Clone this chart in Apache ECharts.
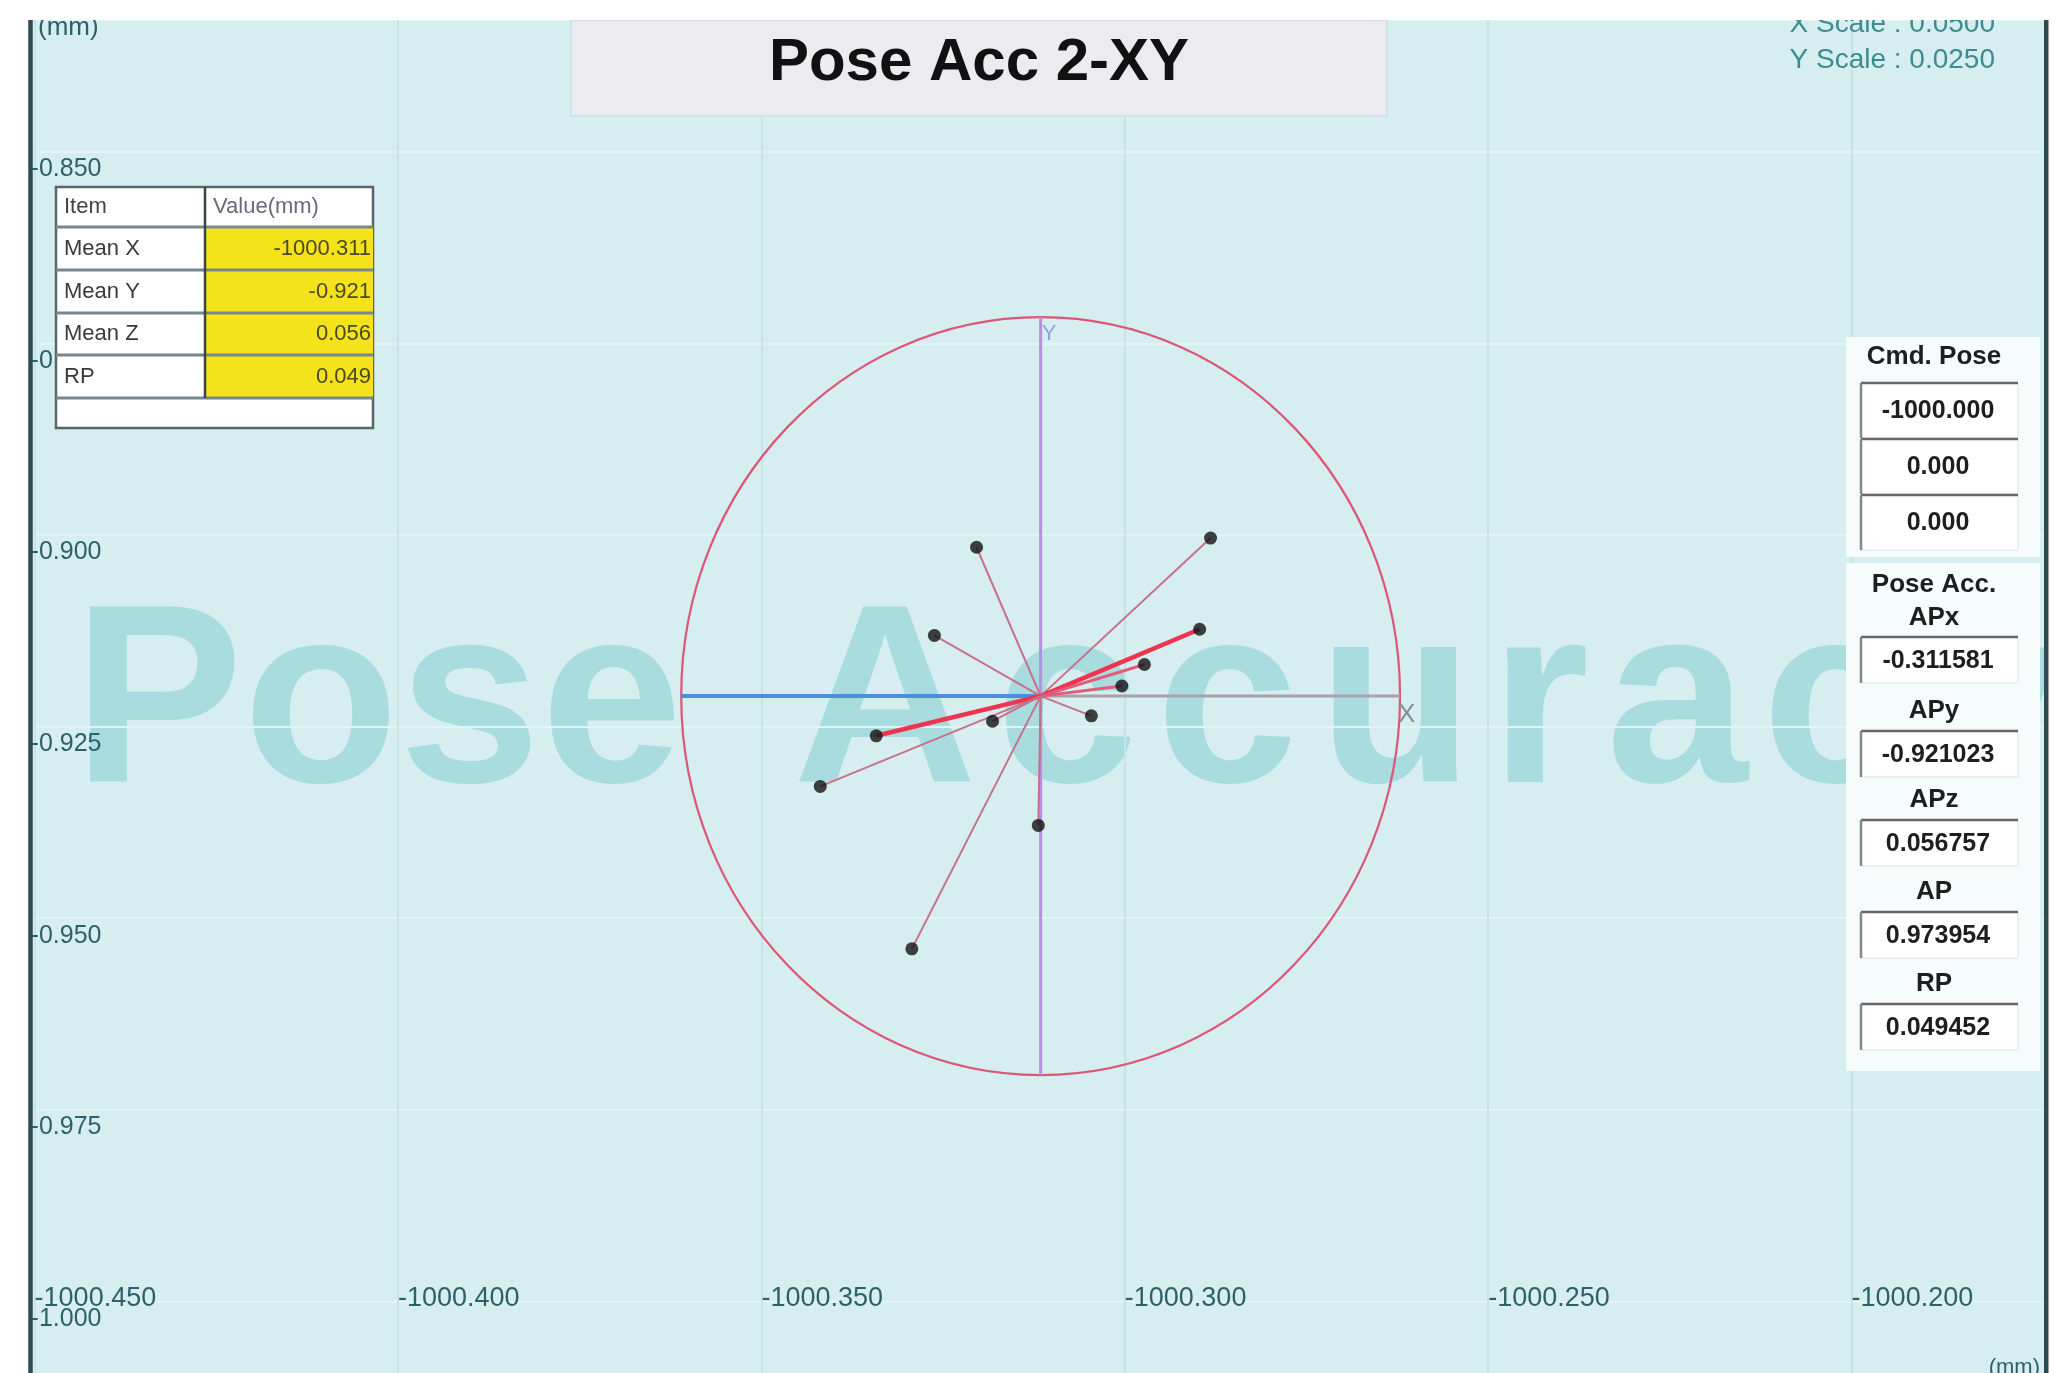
<!DOCTYPE html>
<html><head><meta charset="utf-8">
<script src="https://cdn.jsdelivr.net/npm/echarts@6/dist/echarts.min.js"></script>
<style>html,body{margin:0;padding:0;background:#fff}#c{width:2072px;height:1373px}</style>
</head><body><div id="c"></div>
<script>
// ---- data ----
const pointX = [-1000.3204, -1000.2882, -1000.3262, -1000.2897, -1000.2973, -1000.3004,
                -1000.3046, -1000.3182, -1000.3342, -1000.3419, -1000.3119, -1000.3293];
const pointY = [-0.9016, -0.9004, -0.9131, -0.9123, -0.9169, -0.9197,
                -0.9236, -0.9243, -0.9262, -0.9328, -0.9379, -0.9540];
const meanX = -1000.311581;
const meanY = -0.921023;
const rpRadius = 0.049452;
const xMin = -1000.450, xMax = -1000.17339, xStep = 0.05;
const yMin = -1.025, yMax = -0.832803, yStep = 0.025;
const tableItems = ['Mean X', 'Mean Y', 'Mean Z', 'RP'];
const tableValues = ['-1000.311', '-0.921', '0.056', '0.049'];
const cmdPose = ['-1000.000', '0.000', '0.000'];
const accLabels = ['APx', 'APy', 'APz', 'AP', 'RP'];
const accValues = ['-0.311581', '-0.921023', '0.056757', '0.973954', '0.049452'];
const titleText = 'Pose Acc 2-XY';
const xScaleText = 'X Scale : 0.0500';
const yScaleText = 'Y Scale : 0.0250';
const watermarkWord1 = 'Pose';
const watermarkWord2 = 'Accuracy';

// ---- styling / layout ----
const FONT = '"Liberation Sans", Arial, sans-serif';
const TEAL = '#2d6168';
const redSpokes = [3, 8];
const midSpokes = [4, 5];
const wmLetterX = [793, 996, 1156, 1318, 1490, 1606, 1762, 1920];

const chart = echarts.init(document.getElementById('c'), null, {renderer: 'canvas'});

const g = [];
// plot background
g.push({type: 'rect', z: -100, silent: true, shape: {x: 29, y: 20, width: 2018, height: 1353}, style: {fill: '#d7eef0'}});
// watermark
const wmStyle = {fill: '#a9dcdf', fontSize: 255, fontWeight: 'bold', fontFamily: FONT, align: 'left', verticalAlign: 'middle'};
g.push({type: 'text', z: -50, silent: true, x: 73, y: 712, style: Object.assign({text: watermarkWord1}, wmStyle)});
watermarkWord2.split('').forEach((ch, i) => {
  g.push({type: 'text', z: -50, silent: true, x: wmLetterX[i], y: 712, style: Object.assign({text: ch}, wmStyle)});
});
// white margin right of the plot and right border
g.push({type: 'rect', z: 99, silent: true, shape: {x: 2048, y: 0, width: 24, height: 1373}, style: {fill: '#ffffff'}});
g.push({type: 'rect', z: 101, silent: true, shape: {x: 2044, y: 20, width: 4.5, height: 1353}, style: {fill: '#2e4b52'}});
// corner texts
g.push({type: 'text', z: 30, x: 38, y: 28, style: {text: '(mm)', fill: TEAL, fontSize: 26, fontFamily: FONT, align: 'left', verticalAlign: 'middle'}});
g.push({type: 'text', z: 30, x: 1995, y: 24, style: {text: xScaleText, fill: '#3b8d8f', fontSize: 28, fontFamily: FONT, align: 'right', verticalAlign: 'middle'}});
g.push({type: 'text', z: 30, x: 1995, y: 60, style: {text: yScaleText, fill: '#3b8d8f', fontSize: 28, fontFamily: FONT, align: 'right', verticalAlign: 'middle'}});
g.push({type: 'text', z: 30, x: 2040, y: 1357, style: {text: '(mm)', fill: TEAL, fontSize: 22, fontFamily: FONT, align: 'right', verticalAlign: 'top'}});
// top white strip
g.push({type: 'rect', z: 100, silent: true, shape: {x: 0, y: 0, width: 2072, height: 20}, style: {fill: '#ffffff'}});
// title box
g.push({type: 'rect', z: 60, shape: {x: 571, y: 20, width: 816, height: 96}, style: {fill: '#ebebf0', stroke: '#cfe3ea', lineWidth: 2}});
g.push({type: 'text', z: 61, x: 979, y: 63, style: {text: titleText, fill: '#111', fontSize: 60, fontWeight: 'bold', fontFamily: FONT, align: 'center', verticalAlign: 'middle'}});

// left table
const tX0 = 56, tXc = 205, tX1 = 373;
const rowsY = [187, 227, 270, 313, 355, 398, 428];
g.push({type: 'rect', z: 60, shape: {x: tX0, y: rowsY[0], width: tX1 - tX0, height: rowsY[6] - rowsY[0]}, style: {fill: '#ffffff', stroke: '#56666c', lineWidth: 2.5}});
g.push({type: 'rect', z: 61, shape: {x: tXc, y: rowsY[1], width: tX1 - tXc, height: rowsY[5] - rowsY[1]}, style: {fill: '#f4e31b'}});
for (let i = 1; i <= 5; i++) {
  g.push({type: 'line', z: 62, shape: {x1: tX0, y1: rowsY[i], x2: tX1, y2: rowsY[i]}, style: {stroke: '#77878d', lineWidth: 3}});
}
g.push({type: 'line', z: 62, shape: {x1: tXc, y1: rowsY[0], x2: tXc, y2: rowsY[5]}, style: {stroke: '#3a4448', lineWidth: 2.5}});
g.push({type: 'text', z: 63, x: tX0 + 8, y: (rowsY[0] + rowsY[1]) / 2, style: {text: 'Item', fill: '#444', fontSize: 22, fontFamily: FONT, align: 'left', verticalAlign: 'middle'}});
g.push({type: 'text', z: 63, x: tXc + 8, y: (rowsY[0] + rowsY[1]) / 2, style: {text: 'Value(mm)', fill: '#666a7a', fontSize: 22, fontFamily: FONT, align: 'left', verticalAlign: 'middle'}});
tableItems.forEach((it, i) => {
  const cy = (rowsY[i + 1] + rowsY[i + 2]) / 2;
  g.push({type: 'text', z: 63, x: tX0 + 8, y: cy, style: {text: it, fill: '#3a3a3a', fontSize: 22, fontFamily: FONT, align: 'left', verticalAlign: 'middle'}});
  g.push({type: 'text', z: 63, x: tX1 - 2, y: cy, style: {text: tableValues[i], fill: '#4a4a20', fontSize: 22, fontFamily: FONT, align: 'right', verticalAlign: 'middle'}});
});

// right panel
const pX0 = 1846, pW = 194, bX0 = 1861, bX1 = 2018, pCx = 1938;
g.push({type: 'rect', z: 60, shape: {x: pX0, y: 337, width: pW, height: 220}, style: {fill: '#f6fbfb'}});
g.push({type: 'rect', z: 60, shape: {x: pX0, y: 563, width: pW, height: 508}, style: {fill: '#f6fbfb'}});
function pushBox(y0, h, txt) {
  g.push({type: 'rect', z: 61, shape: {x: bX0, y: y0, width: bX1 - bX0, height: h}, style: {fill: '#ffffff', stroke: '#dde3e3', lineWidth: 1}});
  g.push({type: 'line', z: 62, shape: {x1: bX0, y1: y0, x2: bX1, y2: y0}, style: {stroke: '#666', lineWidth: 2.5}});
  g.push({type: 'line', z: 62, shape: {x1: bX0, y1: y0, x2: bX0, y2: y0 + h}, style: {stroke: '#888', lineWidth: 2.5}});
  g.push({type: 'text', z: 63, x: pCx, y: y0 + h / 2 + 1, style: {text: txt, fill: '#1e1e1e', fontSize: 25, fontWeight: 'bold', fontFamily: FONT, align: 'center', verticalAlign: 'middle'}});
}
function pushLabel(y, txt) {
  g.push({type: 'text', z: 63, x: pCx - 4, y: y, style: {text: txt, fill: '#1e1e1e', fontSize: 26, fontWeight: 'bold', fontFamily: FONT, align: 'center', verticalAlign: 'middle'}});
}
pushLabel(357, 'Cmd. Pose');
const cmdY = [383, 439, 495];
cmdPose.forEach((v, i) => pushBox(cmdY[i], 55, v));
pushLabel(585, 'Pose Acc.');
const accLabelY = [618, 711, 800, 892, 984];
const accBoxY = [637, 731, 820, 912, 1004];
accLabels.forEach((l, i) => { pushLabel(accLabelY[i], l); pushBox(accBoxY[i], 46, accValues[i]); });

const spokeData = pointX.map((x, i) => [x, pointY[i], i]);

const option = {
  animation: false,
  backgroundColor: '#ffffff',
  grid: {left: 34.6, right: 27, top: 20, bottom: -120, containLabel: false, outerBoundsMode: 'none', show: false},
  xAxis: {
    type: 'value', min: xMin, max: xMax, interval: xStep, position: 'bottom', offset: -191.6,
    axisLine: {show: false}, axisTick: {show: false},
    axisLabel: {color: TEAL, fontSize: 27, fontFamily: FONT, margin: -3, align: 'left', verticalAlign: 'middle',
      showMaxLabel: false, formatter: v => v.toFixed(3)},
    splitLine: {show: true, lineStyle: {color: '#c6e3e6', width: 2}}
  },
  yAxis: {
    type: 'value', min: yMin, max: yMax, interval: yStep, position: 'left', offset: 4,
    axisLine: {show: true, lineStyle: {color: '#2e4b52', width: 4.5}}, axisTick: {show: false},
    axisLabel: {inside: true, color: TEAL, fontSize: 25, fontFamily: FONT, margin: 0, align: 'left',
      verticalAlign: 'top', padding: [5, 0, 0, 0], showMaxLabel: false, formatter: v => v.toFixed(3)},
    splitLine: {show: true, lineStyle: {color: '#e4f4f5', width: 2}}
  },
  graphic: {elements: g},
  series: [
    { // RP circle
      type: 'custom', coordinateSystem: 'cartesian2d', z: 2, silent: true, clip: false,
      data: [[meanX, meanY, rpRadius]],
      renderItem: (p, api) => {
        const c = api.coord([api.value(0), api.value(1)]);
        const s = api.size([api.value(2), api.value(2)]);
        return {type: 'ellipse', shape: {cx: c[0], cy: c[1], rx: s[0], ry: s[1]},
          style: {fill: null, stroke: '#dc5676', lineWidth: 2.2}};
      }
    },
    { // crosshair
      type: 'custom', coordinateSystem: 'cartesian2d', z: 3, silent: true, clip: false,
      data: [[meanX, meanY, rpRadius]],
      renderItem: (p, api) => {
        const cx = api.value(0), cy = api.value(1), r = api.value(2);
        const c = api.coord([cx, cy]), L = api.coord([cx - r, cy]), R = api.coord([cx + r, cy]);
        const T = api.coord([cx, cy + r]), B = api.coord([cx, cy - r]);
        return {type: 'group', children: [
          {type: 'line', shape: {x1: L[0], y1: L[1], x2: c[0], y2: c[1]}, style: {stroke: '#4a8fd8', lineWidth: 4}},
          {type: 'line', shape: {x1: c[0], y1: c[1], x2: R[0], y2: R[1]}, style: {stroke: '#aaa0ac', lineWidth: 3}},
          {type: 'line', shape: {x1: T[0], y1: T[1], x2: B[0], y2: B[1]}, style: {stroke: '#b98fda', lineWidth: 3}},
          {type: 'text', x: R[0] - 2, y: R[1] + 6, style: {text: 'X', fill: '#8c8c98', fontSize: 26, fontFamily: FONT, align: 'left', verticalAlign: 'top'}},
          {type: 'text', x: T[0] + 1, y: T[1] + 6, style: {text: 'Y', fill: '#8fa2d8', fontSize: 22, fontFamily: FONT, align: 'left', verticalAlign: 'top'}}
        ]};
      }
    },
    { // spokes from the mean to each point
      type: 'custom', coordinateSystem: 'cartesian2d', z: 4, silent: true,
      data: spokeData,
      renderItem: (p, api) => {
        const c = api.coord([meanX, meanY]);
        const e = api.coord([api.value(0), api.value(1)]);
        const i = api.value(2);
        const red = redSpokes.includes(i), mid = midSpokes.includes(i);
        return {type: 'line', shape: {x1: c[0], y1: c[1], x2: e[0], y2: e[1]},
          style: {stroke: red ? '#f0334e' : (mid ? '#e45a78' : '#c7708a'), lineWidth: red ? 4.5 : (mid ? 3 : 2)}};
      }
    },
    { // measured points
      type: 'scatter', z: 6, silent: true, symbol: 'circle', symbolSize: 13,
      itemStyle: {color: '#111111'},
      data: pointX.map((x, i) => [x, pointY[i]])
    }
  ]
};
chart.setOption(option);
</script>
</body></html>
